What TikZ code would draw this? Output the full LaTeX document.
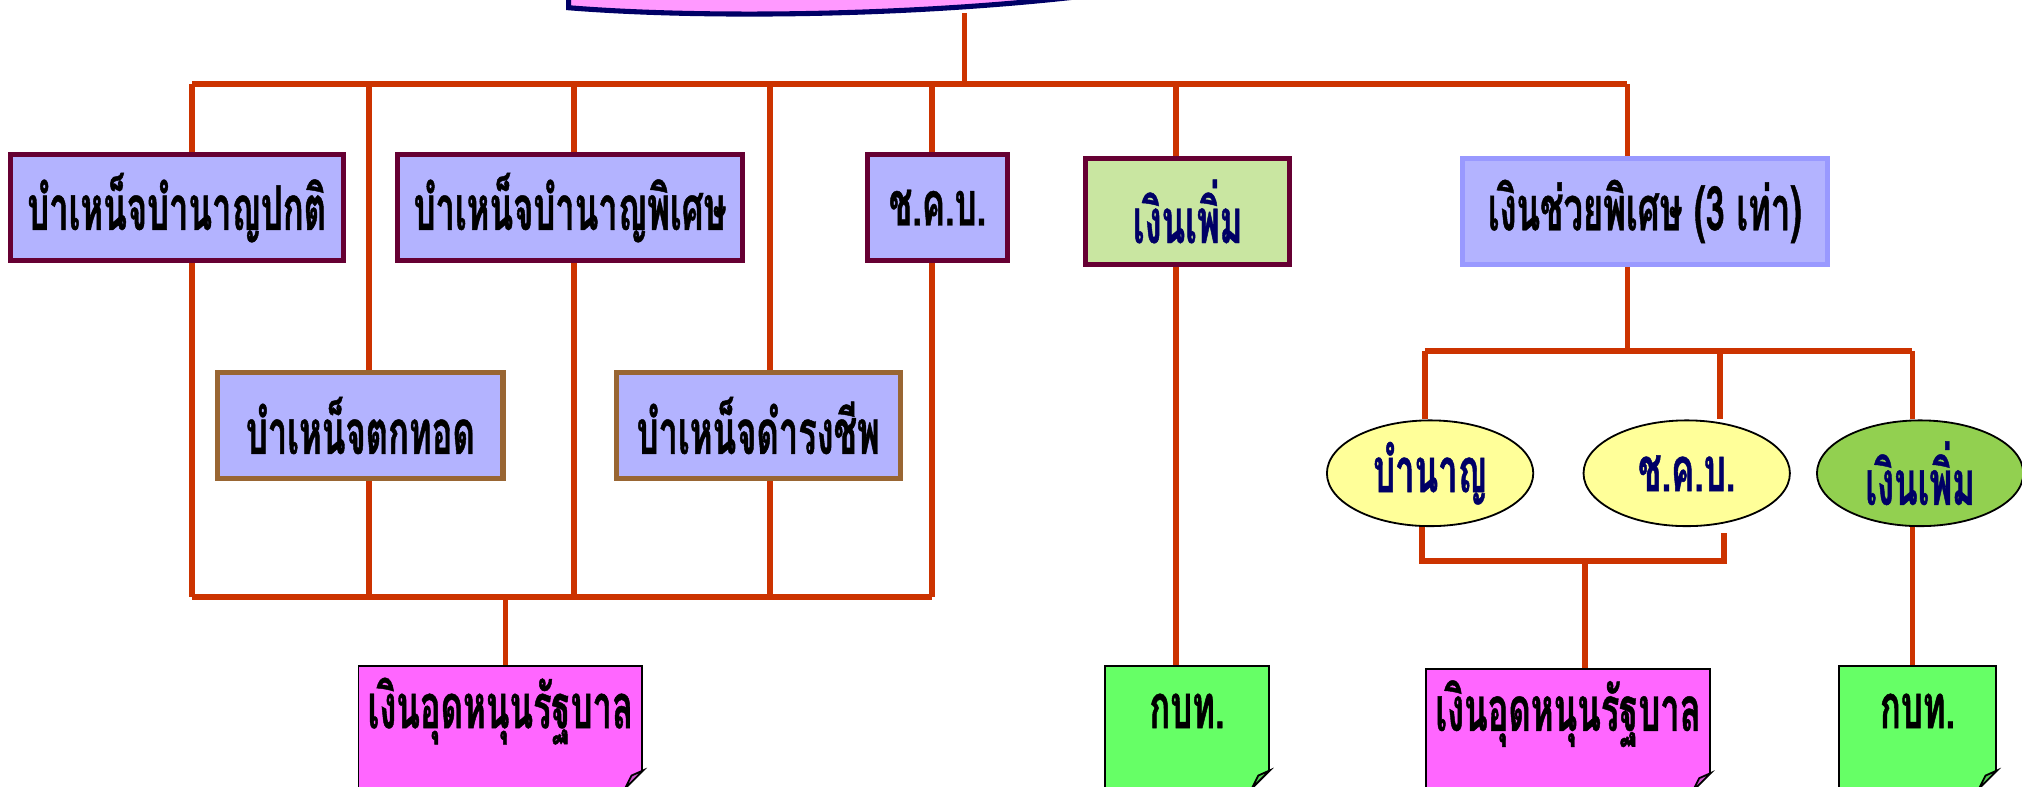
\documentclass[tikz,border=0pt]{standalone}
\usepackage{fontspec}
\newfontfamily\thaifont[Script=Thai,FakeStretch=0.56,BoldFeatures={FakeBold=0.7}]{Loma}
\usetikzlibrary{calc,positioning,shapes.geometric}

\definecolor{linkred}{HTML}{CC3300}
\definecolor{maroon}{HTML}{660033}
\definecolor{brownedge}{HTML}{996633}
\definecolor{lavender}{HTML}{B3B3FF}
\definecolor{paleblue}{HTML}{9999FF}
\definecolor{palegreen}{HTML}{C9E6A1}
\definecolor{navy}{HTML}{000066}
\definecolor{headpink}{HTML}{FF99FF}
\definecolor{notepink}{HTML}{FF66FF}
\definecolor{notegreen}{HTML}{66FF66}
\definecolor{paleyellow}{HTML}{FFFF99}
\definecolor{leafgreen}{HTML}{92D050}

\tikzset{
  link/.style={draw=linkred, line width=3.2pt},
  thaitext/.style={font=\thaifont\bfseries\fontsize{34}{36}\selectfont},
  box/.style={thaitext, rectangle, draw=maroon, fill=lavender, line width=2.8pt,
    minimum height=2.05cm, inner sep=0pt},
  subbox/.style={box, draw=brownedge},
  oval/.style={thaitext, ellipse, draw=black, line width=1pt, fill=paleyellow,
    text=navy, minimum width=4cm, minimum height=2.05cm, inner sep=0pt},
  note/.style={thaitext, rectangle, draw=black, line width=1pt, inner sep=0pt,
    text height=1.2cm, text depth=1.15cm},
}

\begin{document}
\begin{tikzpicture}[x=0.025cm, y=-0.025cm]
  \clip (0,0) rectangle (1568,610);
  \useasboundingbox (0,0) rectangle (1568,610);

  % heading banner, cut by the top edge
  \filldraw[fill=headpink, draw=navy, line width=2.8pt]
    (441,-20) -- (441,6) .. controls (540,14) and (700,13) .. (840,-3) -- (840,-20) -- cycle;
  \coordinate (head) at (748,10);

  % first level
  \node[box, minimum width=6.45cm] (b1) at (137,161) {บำเหน็จบำนาญปกติ};
  \node[box, minimum width=6.7cm] (b2) at (442,161) {บำเหน็จบำนาญพิเศษ};
  \node[box, minimum width=2.7cm] (b3) at (727,161) {ช.ค.บ.};
  \node[box, minimum width=3.95cm, fill=palegreen, text=navy] (b4) at (921,164) {เงินเพิ่ม};
  \node[box, minimum width=7.075cm, draw=paleblue] (b5) at (1275.5,164) {เงินช่วยพิเศษ (3 เท่า)};

  % second level
  \node[subbox, minimum width=5.525cm] (s1) at (279.5,330) {บำเหน็จตกทอด};
  \node[subbox, minimum width=5.5cm] (s2) at (588,330) {บำเหน็จดำรงชีพ};

  \node[oval] (e1) at (1109,367) {บำนาญ};
  \node[oval] (e2) at (1308,367) {ช.ค.บ.};
  \node[oval, fill=leafgreen] (e3) at (1489,367) {เงินเพิ่ม};

  % sources of money
  \node[note, fill=notepink, minimum width=5.5cm] (g1) at (388,516) [anchor=north] {เงินอุดหนุนรัฐบาล};
  \node[note, fill=notegreen, minimum width=3.175cm] (k1) at (920.5,516) [anchor=north] {กบท.};
  \node[note, fill=notepink, minimum width=5.5cm] (g2) at (1216,518) [anchor=north] {เงินอุดหนุนรัฐบาล};
  \node[note, fill=notegreen, minimum width=3.05cm] (k2) at (1487,516) [anchor=north] {กบท.};

  \foreach \n/\c in {g1/notepink, k1/notegreen, g2/notepink, k2/notegreen}{
    \fill[white] (\n.south east) -- ($(\n.south east)+(-14,0)$) -- ($(\n.south east)+(0,-14)$) -- cycle;
    \filldraw[fill=\c!80!black, draw=black, line width=1pt]
      ($(\n.south east)+(-14,0)$) -- ($(\n.south east)+(0,-14)$) -- ($(\n.south east)+(-9,-10)$) -- cycle;
  }

  % top bus
  \coordinate (t0) at (748,65);
  \coordinate (t1) at (149,65);
  \coordinate (t2) at (286,65);
  \coordinate (t3) at (445,65);
  \coordinate (t4) at (597,65);
  \coordinate (t5) at (723,65);
  \coordinate (t6) at (912,65);
  \coordinate (t7) at (1262,65);
  \draw[link] (head) -- (t0);
  \draw[link] (t1) -- (t7);
  \foreach \t/\b in {t1/b1, t2/s1, t3/b2, t4/s2, t5/b3, t6/b4, t7/b5}
    \draw[link] (\t) -- (\t |- \b.north);

  % lower bus on the left
  \coordinate (u1) at (149,463);
  \coordinate (u5) at (723,463);
  \coordinate (u0) at (392,463);
  \draw[link] (b1.south -| t1) -- (u1);
  \draw[link] (s1.south -| t2) -- (t2 |- u1);
  \draw[link] (b2.south -| t3) -- (t3 |- u1);
  \draw[link] (s2.south -| t4) -- (t4 |- u1);
  \draw[link] (b3.south -| t5) -- (u5);
  \draw[link] (u1) -- (u5);
  \draw[link] (u0) -- (u0 |- g1.north);

  % middle column
  \draw[link] (b4.south -| t6) -- (t6 |- k1.north);

  % right branch
  \coordinate (r0) at (1262,272);
  \coordinate (r1) at (1105,272);
  \coordinate (r2) at (1334,272);
  \coordinate (r3) at (1483,272);
  \draw[link] (b5.south -| r0) -- (r0);
  \draw[link] (r1) -- (r3);
  \draw[link] (r1) -- (r1 |- e1.north);
  \draw[link] (r2) -- (r2 |- e2.north);
  \draw[link] (r3) -- (r3 |- e3.north);

  \coordinate (v1) at (1103,435);
  \coordinate (v2) at (1337,435);
  \coordinate (v0) at (1229,435);
  \draw[link] (v1 |- e1.south) -- (v1) -- (v2) -- ++(0,-22);
  \draw[link] (v0) -- (v0 |- g2.north);
  \draw[link] (e3.south -| r3) -- (r3 |- k2.north);
\end{tikzpicture}
\end{document}
